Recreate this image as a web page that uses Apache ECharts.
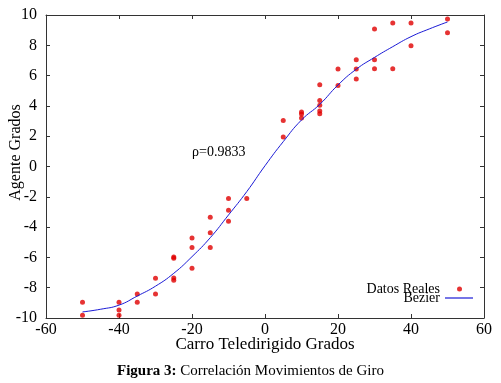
<!DOCTYPE html>
<html>
<head>
<meta charset="utf-8">
<script src="https://cdn.jsdelivr.net/npm/echarts@6/dist/echarts.min.js"></script>
<style>
  html, body { margin: 0; padding: 0; background: #fff; }
  #chart { width: 501px; height: 383px; }
</style>
</head>
<body>
<div id="chart"></div>
<script>
// datos reales (grados del carro vs grados del agente)
var realesX = [-50, -50, -40, -40, -40, -35, -35, -30, -30, -25, -25, -25, -25,
               -20, -20, -20, -15, -15, -15, -10, -10, -10, -5,
               5, 5, 10, 10, 10, 15, 15, 15, 15, 15, 20, 20, 25, 25, 25,
               30, 30, 30, 35, 35, 40, 40, 50, 50]
var realesY = [-8.96, -9.82, -8.96, -9.47, -9.82, -8.42, -8.96, -7.38, -8.42, -5.97, -6.06, -7.36, -7.51,
               -4.72, -5.34, -6.72, -3.35, -4.37, -5.34, -2.12, -2.89, -3.62, -2.12,
               3.03, 1.95, 3.6, 3.47, 3.2, 5.4, 4.35, 4.04, 3.66, 3.49, 6.44, 5.34, 7.05, 6.44, 5.78,
               9.08, 7.05, 6.46, 9.47, 6.46, 9.47, 7.97, 9.74, 8.83]

// curva bezier
var bezierX = [-50, -45, -40, -35, -30, -25, -20, -15, -10, -5, 0, 5, 10, 15, 20, 25, 30, 35, 40, 45, 50]
var bezierY = [-9.6, -9.42, -9.15, -8.55, -7.9, -7.05, -5.95, -4.7, -3.2, -1.66, 0.05, 1.64, 3.07, 4.1, 5.38, 6.42, 7.2, 7.91, 8.57, 9.08, 9.54]

var rhoTexto = 'ρ=0.9833'
var fuente = '"Liberation Serif", "DejaVu Serif", serif'

function pares(xs, ys) {
    var out = []
    for (var i = 0; i < xs.length; i++) out.push([xs[i], ys[i]])
    return out
}

var chart = echarts.init(document.getElementById('chart'))

var ejeBase = {
    type: 'value',
    nameMoveOverlap: false,
    axisLine: { show: true, onZero: false, lineStyle: { color: '#333', width: 1 } },
    axisTick: { show: true, inside: true, length: 4, lineStyle: { color: '#333' } },
    splitLine: { show: false },
    axisLabel: { color: '#000', fontFamily: fuente, fontSize: 16 }
}

var option = {
    animation: false,
    backgroundColor: '#fff',
    grid: { left: 46, right: 17, top: 15, bottom: 65, containLabel: false, outerBoundsMode: 'none' },
    title: {
        text: '{b|Figura 3:} Correlación Movimientos de Giro',
        left: 'center',
        top: 359,
        textStyle: {
            fontFamily: fuente, fontSize: 15, fontWeight: 'normal', color: '#000',
            rich: { b: { fontFamily: fuente, fontSize: 15, fontWeight: 'bold', color: '#000' } }
        }
    },
    legend: [
        {
            data: ['Datos Reales'], right: 39, top: 282, itemWidth: 5, itemHeight: 5,
            icon: 'circle',
            textStyle: { fontFamily: fuente, fontSize: 14, color: '#000', padding: [0, 12, 0, 0] },
            align: 'right', padding: 0
        },
        {
            data: ['Bezier'], right: 28, top: 291, itemWidth: 28, itemHeight: 1.2,
            icon: 'rect',
            textStyle: { fontFamily: fuente, fontSize: 14, color: '#000' },
            align: 'right', padding: 0
        }
    ],
    graphic: [
        {
            type: 'text', left: 192, top: 145,
            style: { text: rhoTexto, fontFamily: fuente, fontSize: 14, fill: '#000' }
        }
    ],
    xAxis: [
        Object.assign({}, ejeBase, {
            position: 'bottom', min: -60, max: 60, interval: 20,
            name: 'Carro Teledirigido Grados', nameLocation: 'middle', nameGap: 18,
            nameTextStyle: { fontFamily: fuente, fontSize: 17, color: '#000' },
            axisLabel: { color: '#000', fontFamily: fuente, fontSize: 16, margin: 4 }
        }),
        Object.assign({}, ejeBase, {
            position: 'top', min: -60, max: 60, interval: 20, axisLabel: { show: false }
        })
    ],
    yAxis: [
        Object.assign({}, ejeBase, {
            position: 'left', min: -10, max: 10, interval: 2,
            name: 'Agente Grados', nameLocation: 'middle', nameGap: 22,
            nameTextStyle: { fontFamily: fuente, fontSize: 16, color: '#000', padding: [0, 0, 0, 28] },
            axisLabel: { color: '#000', fontFamily: fuente, fontSize: 16, margin: 9 }
        }),
        Object.assign({}, ejeBase, {
            position: 'right', min: -10, max: 10, interval: 2, axisLabel: { show: false }
        })
    ],
    series: [
        {
            name: 'Datos Reales',
            type: 'scatter',
            symbol: 'circle',
            symbolSize: 5,
            itemStyle: { color: '#e00000' },
            data: pares(realesX, realesY)
        },
        {
            name: 'Bezier',
            type: 'line',
            symbol: 'none',
            smooth: true,
            lineStyle: { color: '#1a1ad6', width: 1 },
            itemStyle: { color: '#1a1ad6' },
            data: pares(bezierX, bezierY)
        }
    ]
}

chart.setOption(option)
</script>
</body>
</html>
